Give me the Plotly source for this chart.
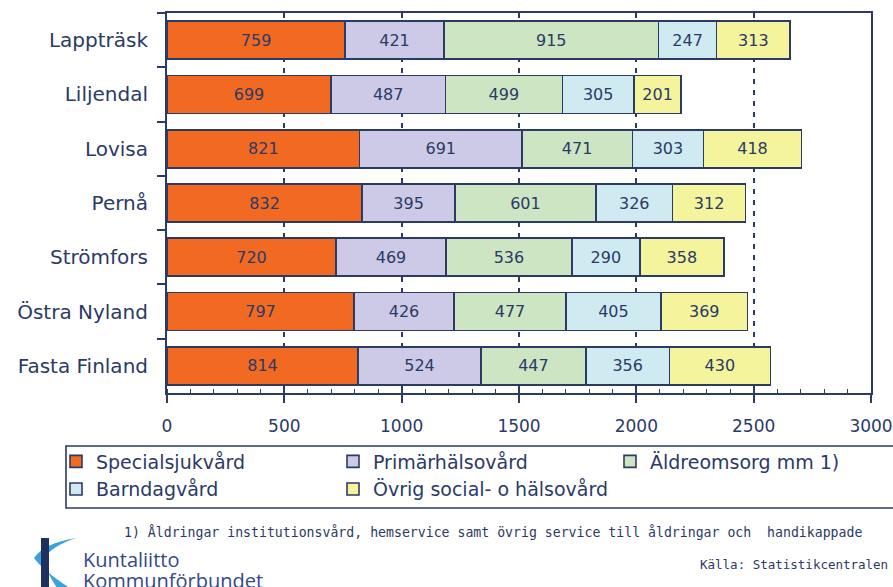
import plotly.graph_objects as go

categories = ["Lappträsk", "Liljendal", "Lovisa", "Pernå", "Strömfors", "Östra Nyland", "Fasta Finland"]
series_names = ["Specialsjukvård", "Primärhälsovård", "Äldreomsorg mm 1)", "Barndagvård", "Övrig social- o hälsovård"]
specialsjukvard = [759, 699, 821, 832, 720, 797, 814]
primarhalsovard = [421, 487, 691, 395, 469, 426, 524]
aldreomsorg = [915, 499, 471, 601, 536, 477, 447]
barndagvard = [247, 305, 303, 326, 290, 405, 356]
ovrig = [313, 201, 418, 312, 358, 369, 430]
x_ticks = [0, 500, 1000, 1500, 2000, 2500, 3000]

series_values = [specialsjukvard, primarhalsovard, aldreomsorg, barndagvard, ovrig]
colors = ["#F26A21", "#CCCAE6", "#CDE5C2", "#CFEBF1", "#F4F49D"]

NAVY = "#2C3A66"
TEXT = "#2B3A67"

W, H = 893, 587
L, R, T, B = 167, 871, 13, 393
PW, PH = R - L, B - T


def px(x):
    return (x - L) / PW


def py(y):
    return (B - y) / PH


fig = go.Figure()
for name, vals, col in zip(series_names, series_values, colors):
    fig.add_trace(go.Bar(
        name=name, y=categories, x=vals, orientation="h",
        marker=dict(color=col, line=dict(color=NAVY, width=1.6)),
        text=[str(v) for v in vals], textposition="inside",
        insidetextanchor="middle", textangle=0, constraintext="none",
        textfont=dict(family="DejaVu Sans, Verdana, sans-serif", size=16, color=TEXT),
        hoverinfo="skip",
    ))

# invisible helper trace so the overlay axis (inner half of the major ticks) is drawn
fig.add_trace(go.Scatter(x=[], y=[], xaxis="x2", yaxis="y", showlegend=False, hoverinfo="skip"))

# decorative logo swoosh and bar
swoosh = (f"M {px(76)},{py(538)} Q {px(44)},{py(543)} {px(34)},{py(558)} "
          f"Q {px(44)},{py(572)} {px(76)},{py(592)} L {px(60)},{py(592)} "
          f"Q {px(48)},{py(576)} {px(43)},{py(559)} Q {px(52)},{py(546)} {px(76)},{py(538)} Z")
logo_bar = f"M {px(41)},{py(538)} L {px(49)},{py(538)} L {px(49)},{py(592)} L {px(41)},{py(592)} Z"

fig.update_layout(
    width=W, height=H,
    margin=dict(l=L, r=W - R, t=T, b=H - B, autoexpand=False),
    paper_bgcolor="white", plot_bgcolor="white",
    barmode="stack", bargap=0.3,
    showlegend=True,
    legend=dict(
        orientation="h", x=px(56), xanchor="left", y=py(442.5), yanchor="top",
        xref="paper", yref="paper",
        entrywidth=232, entrywidthmode="pixels",
        font=dict(family="DejaVu Sans, Verdana, sans-serif", size=19, color=TEXT),
        borderwidth=0, bgcolor="rgba(0,0,0,0)", traceorder="normal",
    ),
    xaxis=dict(
        range=[0, 3000], tickvals=x_ticks, ticktext=[str(v) for v in x_ticks],
        showline=True, linecolor=NAVY, linewidth=2, mirror=True,
        ticks="outside", ticklen=8, tickwidth=1.5, tickcolor=NAVY,
        minor=dict(dtick=100, ticks="inside", ticklen=4, tickwidth=1, tickcolor=NAVY, showgrid=False),
        showgrid=True, gridcolor=NAVY, gridwidth=1.5, griddash="5px,6px",
        zeroline=False,
        tickfont=dict(family="DejaVu Sans, Verdana, sans-serif", size=17, color=TEXT),
        ticklabelstandoff=9,
    ),
    xaxis2=dict(
        overlaying="x", anchor="y", side="bottom", range=[0, 3000], tickvals=x_ticks,
        ticks="inside", ticklen=7, tickwidth=1.5, tickcolor=NAVY,
        showticklabels=False, showgrid=False, showline=False, zeroline=False,
    ),
    yaxis=dict(
        type="category", categoryorder="array", categoryarray=categories,
        autorange="reversed",
        showline=True, linecolor=NAVY, linewidth=2, mirror=True,
        ticks="outside", ticklen=8, tickwidth=1.5, tickcolor=NAVY, tickson="boundaries",
        showgrid=False, zeroline=False,
        tickfont=dict(family="DejaVu Sans, Verdana, sans-serif", size=20, color=TEXT),
        ticklabelstandoff=13,
    ),
    shapes=[
        dict(type="rect", xref="paper", yref="paper", x0=px(66), x1=px(905), y0=py(446), y1=py(508),
             line=dict(color=NAVY, width=1.6), fillcolor="rgba(0,0,0,0)", layer="below"),
        dict(type="path", xref="paper", yref="paper", path=swoosh, fillcolor="#3BA3D9",
             line=dict(width=0)),
        dict(type="path", xref="paper", yref="paper", path=logo_bar, fillcolor="#1F2F5E",
             line=dict(width=0)),
    ],
    annotations=[
        dict(text="1) Åldringar institutionsvård, hemservice samt övrig service till åldringar och  handikappade",
             xref="paper", yref="paper", x=px(122), y=py(532), xanchor="left", yanchor="middle",
             showarrow=False, font=dict(family="DejaVu Sans Mono, monospace", size=13.2, color=TEXT)),
        dict(text="Källa: Statistikcentralen", xref="paper", yref="paper", x=px(890), y=py(564),
             xanchor="right", yanchor="middle", showarrow=False,
             font=dict(family="DejaVu Sans Mono, monospace", size=12.5, color=TEXT)),
        dict(text="Kuntaliitto", xref="paper", yref="paper", x=px(81), y=py(559),
             xanchor="left", yanchor="middle", showarrow=False,
             font=dict(family="Open Sans, sans-serif", size=20, color="#34498A")),
        dict(text="Kommunförbundet", xref="paper", yref="paper", x=px(81), y=py(580),
             xanchor="left", yanchor="middle", showarrow=False,
             font=dict(family="Open Sans, sans-serif", size=20, color="#34498A")),
    ],
)

fig.write_html("out.html", config={"displayModeBar": False},
               post_script="document.body.style.margin='0';document.body.style.overflow='hidden';")
